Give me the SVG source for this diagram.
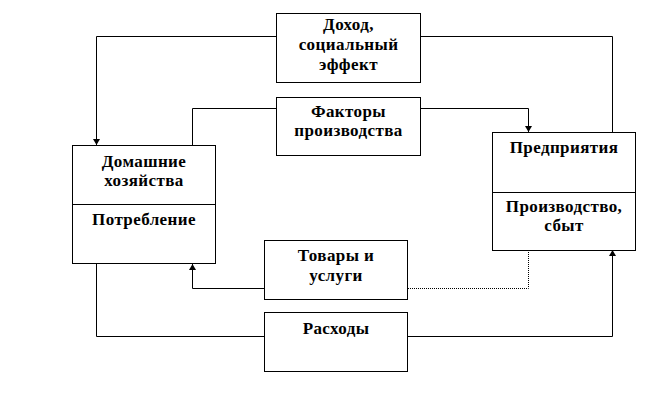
<svg xmlns="http://www.w3.org/2000/svg" width="672" height="420" viewBox="0 0 672 420">
<style>
.box{fill:#fff;stroke:#000;stroke-width:1}
.div{stroke:#000;stroke-width:1}
.t{font-family:"Liberation Serif","DejaVu Serif",serif;font-weight:bold;font-size:17px;letter-spacing:0.4px;fill:#000;text-anchor:middle}
.c{fill:none;stroke:#000;stroke-width:1}
.dot{stroke-dasharray:1 1}
</style>
<defs>
<marker id="arr" viewBox="0 0 6 7" refX="6" refY="3.5" markerWidth="6" markerHeight="7" orient="auto" markerUnits="userSpaceOnUse">
<path d="M0,0 L6,3.5 L0,7 Z" fill="#000"/>
</marker>
</defs>
<rect width="672" height="420" fill="#fff"/>
<g id="connectors">
<path class="c" d="M276,36.5 H96.5 V145" marker-end="url(#arr)"/>
<path class="c" d="M192.5,145 V108.5 H276"/>
<path class="c" d="M421,108.5 H528.5 V132" marker-end="url(#arr)"/>
<path class="c" d="M612.5,132 V36.5 H421"/>
<path class="c dot" d="M528.5,250 V288.5 H408"/>
<path class="c" d="M264,288.5 H192.5 V264" marker-end="url(#arr)"/>
<path class="c" d="M96.5,264 V336.5 H264"/>
<path class="c" d="M408,336.5 H612.5 V250" marker-end="url(#arr)"/>
</g>
<g id="income">
<rect class="box" x="276.5" y="13.5" width="144" height="69"/>
<text class="t" x="348.5" y="30">Доход,</text>
<text class="t" x="348.5" y="50">социальный</text>
<text class="t" x="348.5" y="70">эффект</text>
</g>
<g id="factors">
<rect class="box" x="276.5" y="97.5" width="144" height="58"/>
<text class="t" x="348.5" y="117">Факторы</text>
<text class="t" x="348.5" y="136">производства</text>
</g>
<g id="households">
<rect class="box" x="72.5" y="145.5" width="143" height="118"/>
<line class="div" x1="72.5" y1="204.5" x2="215.5" y2="204.5"/>
<text class="t" x="144" y="167">Домашние</text>
<text class="t" x="144" y="186">хозяйства</text>
<text class="t" x="144" y="225">Потребление</text>
</g>
<g id="enterprises">
<rect class="box" x="492.5" y="132.5" width="143" height="118"/>
<line class="div" x1="492.5" y1="192.5" x2="635.5" y2="192.5"/>
<text class="t" x="564" y="153">Предприятия</text>
<text class="t" x="564" y="212">Производство,</text>
<text class="t" x="564" y="231">сбыт</text>
</g>
<g id="goods">
<rect class="box" x="264.5" y="240.5" width="143" height="59"/>
<text class="t" x="336" y="261">Товары и</text>
<text class="t" x="336" y="281">услуги</text>
</g>
<g id="expenses">
<rect class="box" x="264.5" y="312.5" width="143" height="59"/>
<text class="t" x="336" y="334">Расходы</text>
</g>
</svg>
